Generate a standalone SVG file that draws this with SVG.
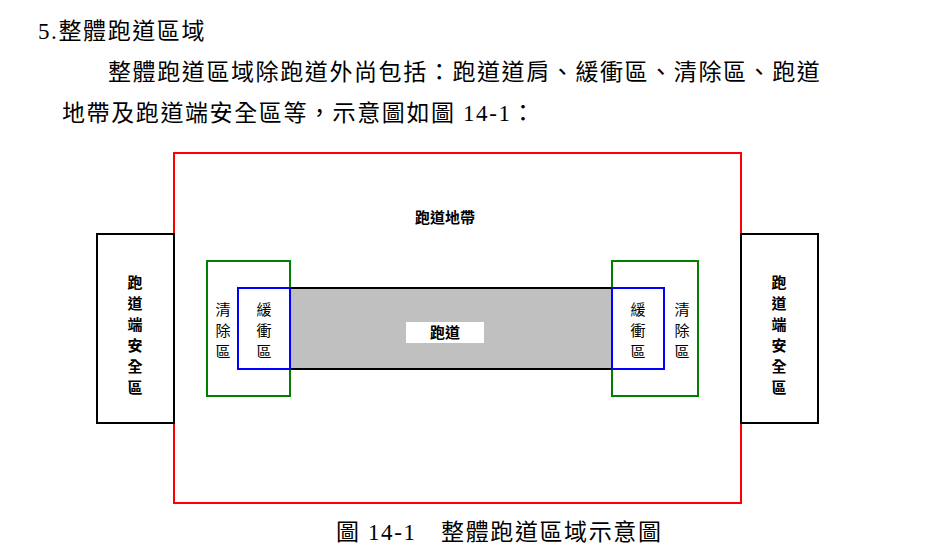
<svg xmlns="http://www.w3.org/2000/svg" width="946" height="547" viewBox="0 0 946 547">
<style>
.t{font-family:"Liberation Serif","Noto Sans CJK TC",serif;font-size:23px;letter-spacing:1.6px;fill:#000}
.l{font-family:"Noto Sans CJK TC",sans-serif;font-size:15px;fill:#000;text-anchor:middle}
.b{font-weight:bold}
rect{fill:none;stroke-width:2}
</style>
<rect width="946" height="547" fill="#fff" style="fill:#fff;stroke:none"/>
<text class="t" x="38" y="39">5.整體跑道區域</text>
<text class="t" x="108" y="80">整體跑道區域除跑道外尚包括：跑道道肩、緩衝區、清除區、跑道</text>
<text class="t" x="62" y="121">地帶及跑道端安全區等，示意圖如圖 14-1：</text>
<g id="strip"><rect x="174" y="153" width="567" height="350" stroke="#ff0000"/>
<text class="l b" x="445" y="223">跑道地帶</text></g>
<g id="resa-left"><rect x="97" y="234" width="77" height="189" stroke="#000"/>
<text class="l b" x="135" y="288">跑</text><text class="l b" x="135" y="309">道</text><text class="l b" x="135" y="330">端</text><text class="l b" x="135" y="351">安</text><text class="l b" x="135" y="372">全</text><text class="l b" x="135" y="393">區</text></g>
<g id="resa-right"><rect x="741" y="234" width="77" height="189" stroke="#000"/>
<text class="l b" x="779" y="288">跑</text><text class="l b" x="779" y="309">道</text><text class="l b" x="779" y="330">端</text><text class="l b" x="779" y="351">安</text><text class="l b" x="779" y="372">全</text><text class="l b" x="779" y="393">區</text></g>
<g id="runway"><rect x="290" y="288" width="322" height="81" stroke="#000" style="fill:#c0c0c0"/>
<rect x="406" y="322" width="78" height="21" style="fill:#fff;stroke:none"/>
<text class="l b" x="445" y="338">跑道</text></g>
<g id="clear-left"><rect x="207" y="261" width="83" height="135" stroke="#008000"/>
<text class="l" x="223" y="315">清</text><text class="l" x="223" y="336">除</text><text class="l" x="223" y="357">區</text></g>
<g id="buffer-left"><rect x="238" y="288" width="52" height="81" stroke="#0000ff"/>
<text class="l" x="264" y="315">緩</text><text class="l" x="264" y="336">衝</text><text class="l" x="264" y="357">區</text></g>
<g id="clear-right"><rect x="612" y="261" width="86" height="135" stroke="#008000"/>
<text class="l" x="682" y="315">清</text><text class="l" x="682" y="336">除</text><text class="l" x="682" y="357">區</text></g>
<g id="buffer-right"><rect x="612" y="288" width="52" height="81" stroke="#0000ff"/>
<text class="l" x="638" y="315">緩</text><text class="l" x="638" y="336">衝</text><text class="l" x="638" y="357">區</text></g>
<g id="connectors"/>
<text class="t" x="336" y="540">圖 14-1　整體跑道區域示意圖</text>
</svg>
